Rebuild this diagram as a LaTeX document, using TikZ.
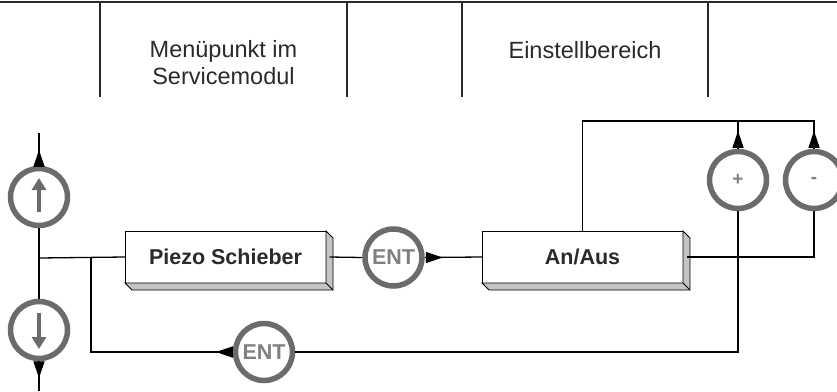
\documentclass[tikz,border=0pt]{standalone}
\usepackage{fontspec}
\setmainfont{Liberation Sans}
\usetikzlibrary{arrows.meta}
\definecolor{ring}{HTML}{6B6B6B}
\definecolor{enttext}{HTML}{808080}
\definecolor{face}{HTML}{C4C4C4}
\definecolor{head}{HTML}{2A2A2A}
\newcommand\extrude[1]{%
  \filldraw[fill=face, line width=0.8pt] (#1.north east) -- ++(7,7) -- ([shift={(7,7)}]#1.south east) -- ([shift={(7,7)}]#1.south west) -- (#1.south west) -- (#1.south east) -- cycle;
  \draw[line width=0.8pt] (#1.south east) -- ++(7,7);}
\begin{document}
\begin{tikzpicture}[x=1pt,y=-1pt,
  btn/.style={circle, draw=ring, line width=5.5pt, fill=white, minimum size=57pt, inner sep=0pt, text=enttext, font=\bfseries\fontsize{21.5}{24}\selectfont},
  sign/.style={font=\bfseries\fontsize{19}{22}\selectfont},
  menubox/.style={rectangle, draw, line width=1pt, fill=white, minimum width=201pt, minimum height=52pt, font=\bfseries\fontsize{21.5}{25}\selectfont, text=head, outer sep=0pt},
  conn/.style={line width=1.3pt},
  tip/.style={-{Triangle[length=17pt,width=11pt]}},
  inner/.style={draw=ring, line width=3.5pt, -{Triangle[length=12pt,width=14pt]}},
  headtxt/.style={font=\fontsize{23.5}{27}\selectfont, text=head, align=center}]
\useasboundingbox (0,0) rectangle (837,391);
% header
\draw[line width=2pt, head] (0,2) -- (837,2);
\foreach \x in {100,347,462,708} \draw[line width=1.3pt, head] (\x,2) -- (\x,97);
\node[headtxt] (h1) at (223.5,63) {Menüpunkt im\\Servicemodul};
\node[headtxt] (h2) at (585,50) {Einstellbereich};
% nodes
\node[btn] (up) at (39,197) {};
\node[btn] (down) at (39,330) {};
\node[menubox] (pz) at (225.5,257) {Piezo Schieber};
\extrude{pz}
\node[btn] (ent1) at (393.5,257.5) {ENT};
\node[menubox] (an) at (582.5,257) {An/Aus};
\extrude{an}
\node[btn] (ent2) at (264,352) {ENT};
\node[btn, sign] (plus) at (738,180) {+};
\node[btn, sign] (minus) at (814,180) {-};
\coordinate (topend) at (39,133);
\coordinate (botend) at (39,391);
\coordinate (j1) at (39,258);
\coordinate (j2) at (91,258);
\coordinate (pzr) at ([xshift=3.5pt]pz.east);
\coordinate (anr) at ([xshift=3.5pt]an.east);
% inner arrows
\draw[inner] ([yshift=-15pt]up.center) -- ([yshift=19pt]up.center);
\draw[inner] ([yshift=17pt]down.center) -- ([yshift=-19pt]down.center);
% connectors
\draw[conn] (up.north) -- (topend);
\draw[conn,tip] (up.north) -- ++(0,-16);
\draw[conn] (down.south) -- (botend);
\draw[conn,tip] (down.south) -- ++(0,17);
\draw[conn] (up.south) -- (down.north);
\draw[conn] (j1) -- (pz.west);
\draw[conn] (j2) |- (ent2.west);
\draw[conn,tip] (ent2.west) -- ++(-17,0);
\draw[conn] (pzr) -- (ent1.west);
\draw[conn] (ent1.east) -- (an.west);
\draw[conn,tip] (ent1.east) -- ++(18,0);
\draw[conn] (an.north) |- (minus.north |- 0,121) -- (minus.north);
\draw[conn] (plus.north) -- (plus.north |- 0,121);
\draw[conn,tip] (plus.north) -- ++(0,-18);
\draw[conn,tip] (minus.north) -- ++(0,-18);
\draw[conn] (anr) -| (minus.south);
\draw[conn] (plus.south) |- (ent2.east);
\end{tikzpicture}
\end{document}
